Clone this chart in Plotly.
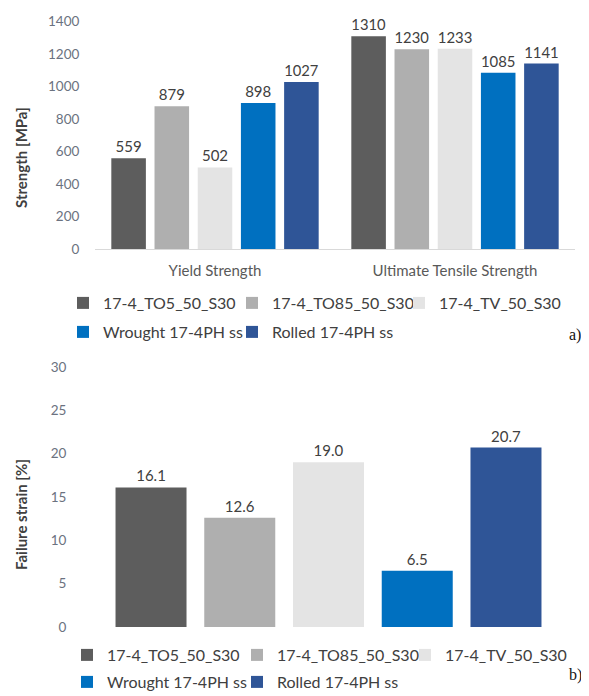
import plotly.graph_objects as go

# ---- data ----
categories_a = ["Yield Strength", "Ultimate Tensile Strength"]
series_names = ["17-4_TO5_50_S30", "17-4_TO85_50_S30", "17-4_TV_50_S30",
                "Wrought 17-4PH ss", "Rolled 17-4PH ss"]
strength_values = [
    [559, 1310],
    [879, 1230],
    [502, 1233],
    [898, 1085],
    [1027, 1141],
]
failure_strain = [16.1, 12.6, 19.0, 6.5, 20.7]
yticks_a = [0, 200, 400, 600, 800, 1000, 1200, 1400]
yticks_b = [0, 5, 10, 15, 20, 25, 30]

colors = ["#5d5d5d", "#afafaf", "#e4e4e4", "#0070c0", "#2f5597"]

W, H = 589, 696
OFF = 8  # page body margin in the browser
FONT = "Lato"
label_color = "#404040"
tick_color = "#6b7280"

# one legend per entry so the entries sit where the reference has them
top_legend_ids = ["legend", "legend2", "legend3", "legend4", "legend5"]
bot_legend_ids = ["legend6", "legend7", "legend8", "legend9", "legend10"]
# on-screen marker centres of the legend entries (x, y)
top_legend_pos = [(87, 303), (256, 303), (423, 303), (87, 332), (256, 332)]
bot_legend_pos = [(91, 655), (261, 655), (429, 655), (91, 682), (261, 682)]

fig = go.Figure()

for name, vals, col, lg in zip(series_names, strength_values, colors, top_legend_ids):
    fig.add_trace(go.Bar(
        x=categories_a, y=vals, name=name, marker_color=col,
        marker_line_width=0,
        texttemplate="%{y}", textposition="outside",
        textfont=dict(family=FONT, size=15, color=label_color),
        cliponaxis=False, xaxis="x", yaxis="y", legend=lg,
    ))

for name, val, col, lg in zip(series_names, failure_strain, colors, bot_legend_ids):
    fig.add_trace(go.Bar(
        x=[""], y=[val], name=name, marker_color=col,
        marker_line_width=0,
        texttemplate="%{y:.1f}", textposition="outside",
        textfont=dict(family=FONT, size=15, color=label_color),
        cliponaxis=False, xaxis="x2", yaxis="y2", legend=lg,
    ))


def px_x(p):
    return (p - OFF) / W


def px_y(p):
    return 1 - (p - OFF) / H


def legend_entry(x_px, y_px):
    return dict(orientation="h", x=px_x(x_px - 24), xanchor="left",
                y=px_y(y_px), yanchor="middle", itemwidth=30,
                font=dict(family=FONT, size=16, color=label_color),
                bgcolor="rgba(0,0,0,0)")


invisible_ticks = dict(ticks="outside", ticklen=12, tickcolor="rgba(0,0,0,0)")

legends = {}
for lid, (lx, ly) in zip(top_legend_ids + bot_legend_ids,
                         top_legend_pos + bot_legend_pos):
    legends[lid] = legend_entry(lx, ly)

fig.update_layout(
    width=W, height=H,
    margin=dict(l=0, r=0, t=0, b=0, pad=0, autoexpand=False),
    paper_bgcolor="white", plot_bgcolor="white",
    font=dict(family=FONT, color=label_color),
    barmode="group", bargap=0.1, bargroupgap=0.2,
    xaxis=dict(domain=[px_x(95), px_x(575)], anchor="y",
               showline=True, linecolor="#d9d9d9", linewidth=1,
               showgrid=False, automargin=False,
               ticks="outside", ticklen=8, tickcolor="rgba(0,0,0,0)",
               tickfont=dict(family=FONT, size=15, color="#595959")),
    yaxis=dict(domain=[px_y(249), px_y(21.5)], anchor="x",
               range=[0, 1400], tickvals=yticks_a, showgrid=False,
               zeroline=False, showline=False, automargin=False,
               tickfont=dict(family=FONT, size=13.5, color=tick_color),
               **invisible_ticks),
    xaxis2=dict(domain=[px_x(82), px_x(575)], anchor="y2",
                visible=False),
    yaxis2=dict(domain=[px_y(627), px_y(367)], anchor="x2",
                range=[0, 30], tickvals=yticks_b, showgrid=False,
                zeroline=False, showline=False, automargin=False,
                tickfont=dict(family=FONT, size=13.5, color=tick_color),
                **invisible_ticks),
    showlegend=True,
    annotations=[
        dict(text="<b>Strength [MPa]</b>", textangle=-90,
             x=px_x(21), y=px_y(158), xref="paper", yref="paper",
             xanchor="center", yanchor="middle",
             showarrow=False, font=dict(family=FONT, size=15, color="#404040")),
        dict(text="<b>Failure strain [%]</b>", textangle=-90,
             x=px_x(21), y=px_y(515), xref="paper", yref="paper",
             xanchor="center", yanchor="middle",
             showarrow=False, font=dict(family=FONT, size=15, color="#404040")),
        dict(text="a)", x=px_x(567), y=px_y(335), xref="paper", yref="paper",
             xanchor="left", showarrow=False,
             font=dict(family="Liberation Serif", size=16, color="#111111")),
        dict(text="b)", x=px_x(567), y=px_y(686), xref="paper", yref="paper",
             xanchor="left", showarrow=False,
             font=dict(family="Liberation Serif", size=16, color="#111111")),
    ],
    **legends,
)

fig.write_html("out.html")
